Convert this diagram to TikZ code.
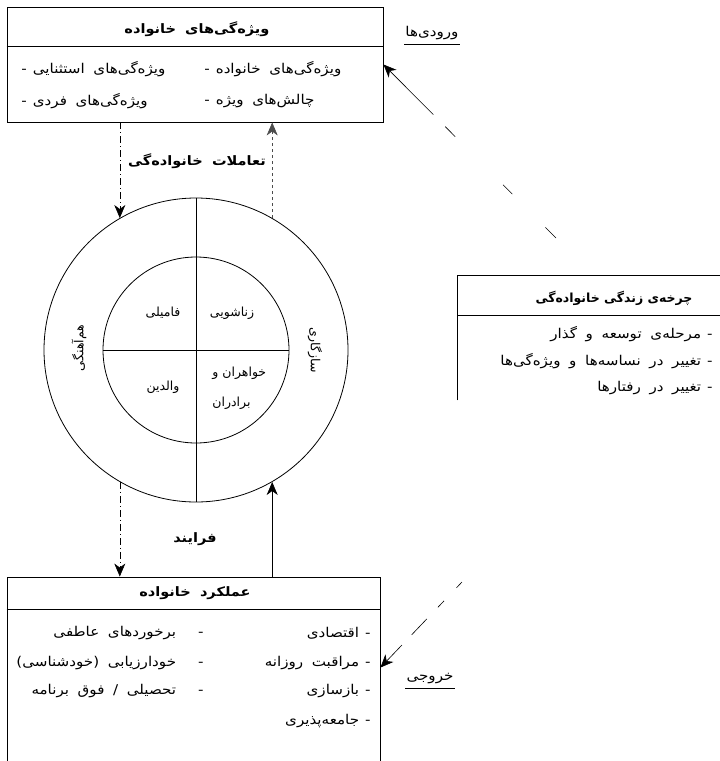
\documentclass[tikz,border=0pt]{standalone}
\usepackage{fontspec}
\newfontfamily\fa[Script=Arabic]{DejaVu Sans}
\newfontfamily\faw[Script=Arabic,FakeStretch=1.12,WordSpace=1.8]{DejaVu Sans}
\TeXXeTstate=1
\usetikzlibrary{arrows.meta}
% item with the dash on its right / on its left
\newcommand{\itm}[2][6pt]{\beginR-\hspace{#1}#2\endR}
\newcommand{\itml}[2][6pt]{\beginR#2\hspace{#1}-\endR}
\newcommand{\rl}[1]{\beginR#1\endR}
\tikzset{
  box/.style={draw, line width=0.9pt, inner sep=0pt},
  fa/.style={font=\faw\fontsize{13.5}{15}\selectfont, inner sep=1pt},
  fac/.style={font=\fa\fontsize{12.5}{14}\selectfont, inner sep=1pt},
  hd/.style={font=\faw\bfseries\fontsize{13}{15}\selectfont, inner sep=1pt},
  tip/.style={line width=0.6pt, -{Stealth[length=13pt,width=11pt,inset=4pt]}},
  dashdot/.style={dash pattern=on 7pt off 3pt on 1pt off 3pt},
}
\begin{document}
\begin{tikzpicture}[x=1pt,y=-1pt,line width=0.8pt]
\useasboundingbox (0,0) rectangle (720,761);

% family characteristics
\node[box, minimum width=376pt, minimum height=115pt] (famchar) at (195,64.5) {};
\draw ([yshift=-40pt]famchar.north west) -- ([yshift=-40pt]famchar.north east);
\node[hd] (famcharhd) at (197,29) {\rl{ویژه‌گی‌های خانواده}};
\node[fa, anchor=west] (fc1) at (20,69) {\itml{ویژه‌گی‌های استثنایی}};
\node[fa, anchor=west] (fc2) at (203,69) {\itml{ویژه‌گی‌های خانواده}};
\node[fa, anchor=west] (fc3) at (20,101) {\itml{ویژه‌گی‌های فردی}};
\node[fa, anchor=west] (fc4) at (203,101) {\itml{چالش‌های ویژه}};

\node[fa] (inlab) at (432,33) {\rl{ورودی‌ها}};
\draw[line width=0.6pt] ([yshift=-3pt]inlab.south west) -- ([yshift=-3pt]inlab.south east);

% life cycle (open at the right and at the bottom)
\node[minimum width=280pt, minimum height=124pt, inner sep=0pt] (lifecyc) at (598,338) {};
\draw[line width=0.9pt] (lifecyc.south west) -- (lifecyc.north west) -- (lifecyc.north east);
\draw ([yshift=-40pt]lifecyc.north west) -- ([yshift=-40pt]lifecyc.north east);
\node[hd, font=\fa\bfseries\fontsize{12.5}{14}\selectfont] (lifecychd) at (614,298) {\rl{چرخه‌ی زندگی خانواده‌گی}};
\node[fa, anchor=east] (lc1) at (714,334) {\itm{مرحله‌ی توسعه و گذار}};
\node[fa, anchor=east] (lc2) at (714,361) {\itm{تغییر در نساسه‌ها و ویژه‌گی‌ها}};
\node[fa, anchor=east] (lc3) at (714,388) {\itm{تغییر در رفتارها}};

% the circle
\node[circle, draw, minimum size=304pt, inner sep=0pt] (outer) at (196,350) {};
\node[circle, draw, minimum size=186pt, inner sep=0pt] (inner) at (196,350) {};
\draw[line width=0.6pt] (outer.north) -- (outer.south);
\draw[line width=0.6pt] (inner.west) -- (inner.east);
\node[fac] (fam) at (163,313) {\rl{فامیلی}};
\node[fac] (mar) at (232,313) {\rl{زناشویی}};
\node[fac] (par) at (163,387) {\rl{والدین}};
\node[fac, anchor=west] (sib1) at (211,373) {\rl{خواهران و}};
\node[fac, anchor=west] (sib2) at (211,403) {\rl{برادران}};
\node[fac, rotate=90] (cohes) at (79,348) {\rl{هم‌آهنگی}};
\node[fac, rotate=-90] (adapt) at (315,350) {\rl{سازگاری}};

% family functions
\node[box, minimum width=373pt, minimum height=200pt] (famfunc) at (193.5,677) {};
\draw ([yshift=-33pt]famfunc.north west) -- ([yshift=-33pt]famfunc.north east);
\node[hd] (famfunchd) at (195,593) {\rl{عملکرد خانواده}};
\foreach \y/\t [count=\i] in {633/اقتصادی,663/مراقبت روزانه,691/بازسازی,721/جامعه‌پذیری}
  \node[fa, anchor=east] (ff\i) at (372,\y) {\itm{\t}};
\foreach \y/\t [count=\i] in {633/برخوردهای عاطفی,663/خودارزیابی (خودشناسی),691/{تحصیلی / فوق برنامه}}
  \node[fa, anchor=east] (fg\i) at (205,\y) {\itm[22pt]{\t}};

\node[fa] (outlab) at (430,679) {\rl{خروجی}};
\draw[line width=0.6pt] ([yshift=-3pt]outlab.south west) -- ([yshift=-3pt]outlab.south east);

% interactions and process
\node[hd] (interact) at (197,161) {\rl{تعاملات خانواده‌گی}};
\node[hd] (process) at (195,539) {\rl{فرایند}};
\draw[tip, dashdot] (outer.120 |- famchar.south) -- (outer.120);
\draw[tip, dash pattern=on 3pt off 3pt, black!70] (outer.60) -- (outer.60 |- famchar.south);
\draw[tip, dashdot] (outer.-120) -- (outer.-120 |- famfunc.north);
\draw[tip] (outer.-60 |- famfunc.north) -- (outer.-60);

% inputs and outputs
\coordinate (intail) at (556,238);
\coordinate (outtail) at (462,582);
\draw[tip, dash pattern=on 15pt off 47pt on 13pt off 68pt on 14pt off 17pt on 71pt] (intail) -- (famchar.east);
\draw[tip, dash pattern=on 8pt off 18pt on 9pt off 16pt on 22pt off 14pt on 40pt] (outtail) -- ([yshift=-91pt]famfunc.north east);
\end{tikzpicture}
\end{document}
